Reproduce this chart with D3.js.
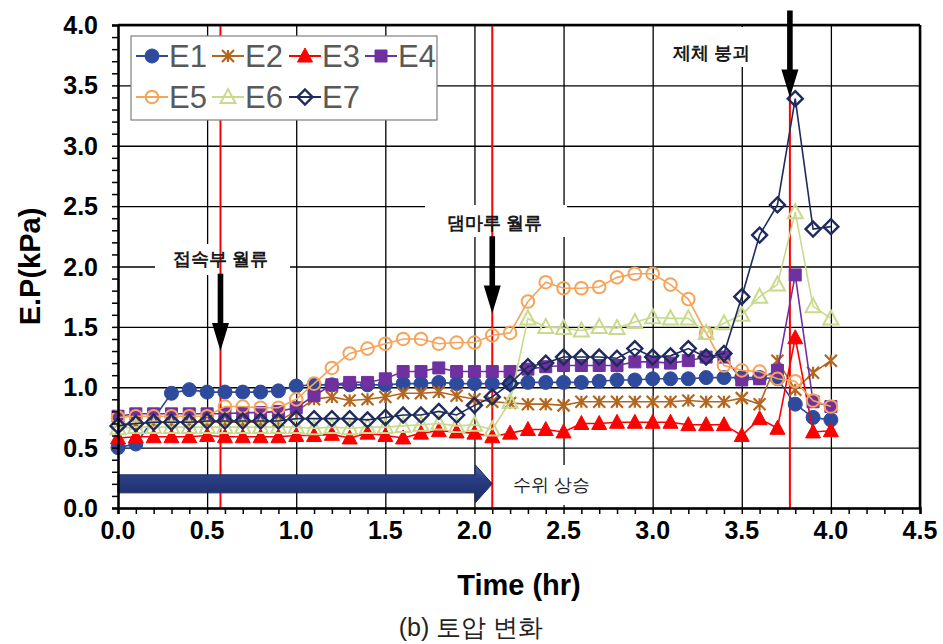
<!DOCTYPE html>
<html>
<head>
<meta charset="utf-8">
<script src="https://cdn.jsdelivr.net/npm/d3@7"></script>
<style>
body { margin: 0; background: #fff; }
svg text { font-family: "Liberation Sans", Arial, sans-serif; }
</style>
</head>
<body>
<div id="chart"></div>
<script>
// time (hr)
let times = [0.0,0.1,0.2,0.3,0.4,0.5,0.6,0.7,0.8,0.9,1.0,1.1,1.2,1.3,1.4,1.5,1.6,1.7,1.8,1.9,2.0,
             2.1,2.2,2.3,2.4,2.5,2.6,2.7,2.8,2.9,3.0,3.1,3.2,3.3,3.4,3.5,3.6,3.7,3.8,3.9,4.0];

// earth pressure (kPa)
let e1 = [0.50,0.53,null,0.95,0.98,0.96,0.96,0.96,0.96,0.97,1.01,1.02,1.02,1.02,1.02,1.02,1.03,1.03,1.04,1.03,1.03,
          1.03,1.03,1.04,1.04,1.04,1.04,1.05,1.06,1.06,1.07,1.07,1.07,1.08,1.08,1.08,1.08,1.07,0.86,0.75,0.73];
let e2 = [0.70,0.70,0.71,0.71,0.71,0.71,0.71,0.71,0.71,0.72,0.80,0.90,0.92,0.89,0.90,0.92,0.95,0.95,0.96,0.93,0.90,
          0.88,0.87,0.86,0.86,0.85,0.88,0.88,0.88,0.88,0.88,0.88,0.89,0.88,0.88,0.91,0.86,1.22,0.98,1.12,1.22];
let e3 = [0.58,0.59,0.59,0.59,0.59,0.60,0.59,0.59,0.59,0.59,0.60,0.60,0.61,0.58,0.62,0.60,0.58,0.62,0.64,0.63,0.62,
          0.59,0.62,0.65,0.65,0.63,0.70,0.70,0.71,0.71,0.71,0.71,0.69,0.69,0.69,0.60,0.74,0.66,1.41,0.63,0.64];
let e4 = [0.76,0.78,0.78,0.78,0.78,0.78,0.78,0.79,0.79,0.80,0.83,0.93,1.02,1.04,1.04,1.07,1.13,1.13,1.16,1.13,1.13,
          1.13,1.13,1.15,1.17,1.18,1.18,1.18,1.18,1.21,1.21,1.20,1.22,1.25,1.25,1.06,1.07,1.14,1.93,0.88,0.84];
let e5 = [0.75,0.76,0.76,0.76,0.76,0.76,0.84,0.84,0.83,0.83,0.90,1.03,1.16,1.28,1.32,1.36,1.40,1.40,1.36,1.37,1.37,
          1.43,1.45,1.71,1.87,1.82,1.82,1.83,1.91,1.94,1.94,1.85,1.73,1.45,1.18,1.14,1.13,1.07,1.05,0.89,0.84];
let e6 = [0.66,0.67,0.67,0.67,0.67,0.67,0.67,0.67,0.67,0.67,0.67,0.66,0.67,0.66,0.67,0.67,0.68,0.69,0.70,0.68,0.69,
          0.65,0.88,1.57,1.50,1.49,1.47,1.50,1.49,1.54,1.58,1.57,1.57,1.45,1.53,1.60,1.75,1.85,2.45,1.67,1.57];
let e7 = [0.68,0.70,0.71,0.71,0.71,0.72,0.72,0.72,0.72,0.72,0.74,0.74,0.74,0.74,0.73,0.75,0.77,0.77,0.80,0.77,0.85,
          0.92,1.03,1.17,1.20,1.25,1.25,1.25,1.24,1.32,1.25,1.26,1.32,1.25,1.28,1.75,2.26,2.51,3.39,2.31,2.33];

let seriesNames = ["E1","E2","E3","E4","E5","E6","E7"];
let seriesValues = [e1,e2,e3,e4,e5,e6,e7];

let xTicks = [0.0,0.5,1.0,1.5,2.0,2.5,3.0,3.5,4.0,4.5];
let yTicks = [0.0,0.5,1.0,1.5,2.0,2.5,3.0,3.5,4.0];

// events (red lines + arrows)
let eventTimes = [0.575, 2.1, 3.77];
let eventLabels = ["접속부 월류", "댐마루 월류", "제체 붕괴"];
let riseLabel = "수위 상승";

let colors = ["#2E4A9C","#B3661F","#FF0000","#7030A0","#F5A45A","#C8DA8C","#1F2B5E"];
let markers = ["circle","star","triangle","square","ocircle","otriangle","diamond"];

let W = 943, H = 644;
let x = d3.scaleLinear().domain([0, 4.5]).range([118, 920]);
let y = d3.scaleLinear().domain([0, 4]).range([508, 25]);

let svg = d3.select("#chart").append("svg")
    .attr("width", W).attr("height", H)
    .attr("style", "background-color:white");

let defs = svg.append("defs");
let grad = defs.append("linearGradient").attr("id", "blueArrow")
    .attr("x1", 0).attr("y1", 0).attr("x2", 0).attr("y2", 1);
grad.append("stop").attr("offset", "0%").attr("stop-color", "#5064aa");
grad.append("stop").attr("offset", "35%").attr("stop-color", "#293d82");
grad.append("stop").attr("offset", "100%").attr("stop-color", "#1c2b66");

// grid
svg.append("g")
    .attr("transform", "translate(0," + y(0) + ")")
    .call(d3.axisBottom(x).tickValues(xTicks).tickSize(-(y(0) - y(4))).tickFormat(""))
    .call(g => g.select(".domain").remove())
    .selectAll("line").attr("stroke", "#000").attr("stroke-width", 1.3);
svg.append("g")
    .attr("transform", "translate(" + x(0) + ",0)")
    .call(d3.axisLeft(y).tickValues(yTicks).tickSize(-(x(4.5) - x(0))).tickFormat(""))
    .call(g => g.select(".domain").remove())
    .selectAll("line").attr("stroke", "#000").attr("stroke-width", 1.3);

// white label boxes that cover the grid
let boxes = [
  {x0: 155, x1: 290, y0: 244, y1: 275},
  {x0: 425, x1: 567, y0: 205, y1: 237},
  {x0: 660, x1: 766, y0: 27, y1: 67},
  {x0: 502, x1: 610, y0: 465, y1: 505}
];
svg.selectAll("rect.lbox").data(boxes).enter().append("rect")
    .attr("class", "lbox")
    .attr("x", d => d.x0).attr("y", d => d.y0)
    .attr("width", d => d.x1 - d.x0).attr("height", d => d.y1 - d.y0)
    .attr("fill", "#fff");

// red event lines
svg.selectAll("line.ev").data(eventTimes).enter().append("line")
    .attr("class", "ev")
    .attr("x1", d => x(d)).attr("x2", d => x(d))
    .attr("y1", y(4)).attr("y2", y(0))
    .attr("stroke", "#ff0000").attr("stroke-width", 2);

// blue water-level arrow
function blueArrowPath(xa, xb, yc) {
  let p = d3.path();
  let hs = 9, hh = 19, hl = 17;
  p.moveTo(xa, yc - hs);
  p.lineTo(xb - hl, yc - hs);
  p.lineTo(xb - hl, yc - hh);
  p.lineTo(xb, yc);
  p.lineTo(xb - hl, yc + hh);
  p.lineTo(xb - hl, yc + hs);
  p.lineTo(xa, yc + hs);
  p.closePath();
  return p.toString();
}
svg.append("path")
    .attr("d", blueArrowPath(x(0), x(eventTimes[1]), y(0.2)))
    .attr("fill", "url(#blueArrow)")
    .attr("stroke", "#1a275c").attr("stroke-width", 1);

// series
function markerPath(type) {
  let p = d3.path();
  if (type == "star") {
    p.moveTo(-6, -6); p.lineTo(6, 6);
    p.moveTo(6, -6); p.lineTo(-6, 6);
    p.moveTo(0, -6); p.lineTo(0, 6);
  } else if (type == "diamond") {
    p.moveTo(0, -7.5); p.lineTo(7.5, 0); p.lineTo(0, 7.5); p.lineTo(-7.5, 0); p.closePath();
  } else if (type == "triangle" || type == "otriangle") {
    p.moveTo(0, -8); p.lineTo(7.5, 6); p.lineTo(-7.5, 6); p.closePath();
  } else if (type == "square") {
    p.rect(-6, -6, 12, 12);
  } else if (type == "circle") {
    p.arc(0, 0, 7, 0, 2 * Math.PI);
  } else {
    p.arc(0, 0, 6.3, 0, 2 * Math.PI);
  }
  return p.toString();
}
function markerStyle(sel, type, color) {
  if (type == "circle" || type == "triangle" || type == "square") {
    sel.attr("fill", color).attr("stroke", color).attr("stroke-width", 1);
  } else if (type == "star") {
    sel.attr("fill", "none").attr("stroke", color).attr("stroke-width", 2.2);
  } else {
    sel.attr("fill", "none").attr("stroke", color).attr("stroke-width", type == "diamond" ? 2.4 : 2);
  }
}

let line = d3.line().x(d => x(d[0])).y(d => y(d[1]));

seriesValues.forEach(function(vals, si) {
  let pts = times.map((t, i) => [t, vals[i]]).filter(d => d[1] != null);
  let g = svg.append("g").attr("id", "series" + si);
  g.append("path")
      .attr("d", line(pts))
      .attr("fill", "none")
      .attr("stroke", colors[si])
      .attr("stroke-width", 1.6);
  g.selectAll("path.mk").data(pts).enter().append("path")
      .attr("class", "mk")
      .attr("transform", d => "translate(" + x(d[0]) + "," + y(d[1]) + ")")
      .attr("d", markerPath(markers[si]))
      .call(markerStyle, markers[si], colors[si]);
});

// black down arrows
function downArrowPath(xc, ytop, ytip) {
  let p = d3.path();
  let sw = 2.8, hw = 8.5, hl = 28;
  p.moveTo(xc - sw, ytop);
  p.lineTo(xc + sw, ytop);
  p.lineTo(xc + sw, ytip - hl);
  p.lineTo(xc + hw, ytip - hl);
  p.lineTo(xc, ytip);
  p.lineTo(xc - hw, ytip - hl);
  p.lineTo(xc - sw, ytip - hl);
  p.closePath();
  return p.toString();
}
let arrowSpans = [[1.94, 1.30], [2.25, 1.61], [4.12, 3.40]];
eventTimes.forEach(function(t, i) {
  svg.append("path")
      .attr("d", downArrowPath(x(t), y(arrowSpans[i][0]), y(arrowSpans[i][1])))
      .attr("fill", "#000");
});

// annotation texts
let labelPos = [[221, 265], [495, 229], [712, 59]];
eventLabels.forEach(function(s, i) {
  svg.append("text")
      .attr("x", labelPos[i][0]).attr("y", labelPos[i][1])
      .attr("text-anchor", "middle")
      .attr("font-family", "Noto Sans CJK KR")
      .attr("font-size", 18).attr("font-weight", 700)
      .attr("fill", "#1a1a1a")
      .text(s);
});
svg.append("text")
    .attr("x", 552).attr("y", 491)
    .attr("text-anchor", "middle")
    .attr("font-family", "Noto Sans CJK KR")
    .attr("font-size", 18)
    .attr("fill", "#1a1a1a")
    .text(riseLabel);

// axes
let xAxis = svg.append("g")
    .attr("transform", "translate(0," + y(0) + ")")
    .call(d3.axisBottom(x).ticks(45).tickSize(6).tickFormat(""));
xAxis.select(".domain").attr("stroke", "#000").attr("stroke-width", 2.5);
xAxis.selectAll(".tick line").attr("stroke", "#000").attr("stroke-width", 1.5);

let yAxis = svg.append("g")
    .attr("transform", "translate(" + x(0) + ",0)")
    .call(d3.axisLeft(y).ticks(40).tickSize(6).tickFormat(""));
yAxis.select(".domain").attr("stroke", "#000").attr("stroke-width", 2.5);
yAxis.selectAll(".tick line").attr("stroke", "#000").attr("stroke-width", 1.5);

// top & right frame
svg.append("line").attr("x1", x(0)).attr("x2", x(4.5)).attr("y1", y(4)).attr("y2", y(4))
    .attr("stroke", "#000").attr("stroke-width", 2.5);
svg.append("line").attr("x1", x(4.5)).attr("x2", x(4.5)).attr("y1", y(4)).attr("y2", y(0))
    .attr("stroke", "#000").attr("stroke-width", 2.5);

// tick labels
svg.selectAll("text.xt").data(xTicks).enter().append("text")
    .attr("class", "xt")
    .attr("x", d => x(d)).attr("y", y(0) + 31)
    .attr("text-anchor", "middle")
    .attr("font-size", 25).attr("font-weight", "bold")
    .text(d => d.toFixed(1));
svg.selectAll("text.yt").data(yTicks).enter().append("text")
    .attr("class", "yt")
    .attr("x", x(0) - 20).attr("y", d => y(d) + 9)
    .attr("text-anchor", "end")
    .attr("font-size", 25).attr("font-weight", "bold")
    .text(d => d.toFixed(1));

// axis titles
svg.append("text")
    .attr("x", (x(0) + x(4.5)) / 2).attr("y", 595)
    .attr("text-anchor", "middle")
    .attr("font-size", 29).attr("font-weight", "bold")
    .text("Time (hr)");
svg.append("text")
    .attr("transform", "translate(40," + ((y(0) + y(4)) / 2) + ") rotate(-90)")
    .attr("text-anchor", "middle")
    .attr("font-size", 29).attr("font-weight", "bold")
    .text("E.P(kPa)");

// legend
let lg = svg.append("g");
lg.append("rect")
    .attr("x", 131).attr("y", 36).attr("width", 306).attr("height", 84)
    .attr("fill", "#fff").attr("stroke", "#808080").attr("stroke-width", 1.2);
let legX = [152, 228, 305, 381];
let legY = [56, 97];
seriesNames.forEach(function(name, i) {
  let cx = legX[i % 4], cy = legY[Math.floor(i / 4)];
  lg.append("line")
      .attr("x1", cx - 16).attr("x2", cx + 16).attr("y1", cy).attr("y2", cy)
      .attr("stroke", colors[i]).attr("stroke-width", 2);
  lg.append("path")
      .attr("transform", "translate(" + cx + "," + cy + ")")
      .attr("d", markerPath(markers[i]))
      .call(markerStyle, markers[i], colors[i]);
  lg.append("text")
      .attr("x", cx + 17).attr("y", cy + 11)
      .attr("font-size", 31)
      .attr("fill", "#595959")
      .text(name);
});

// caption
svg.append("text")
    .attr("x", 471).attr("y", 636)
    .attr("text-anchor", "middle")
    .attr("font-family", "Noto Sans CJK KR")
    .attr("font-size", 25)
    .attr("fill", "#222")
    .text("(b) 토압 변화");
</script>
</body>
</html>
